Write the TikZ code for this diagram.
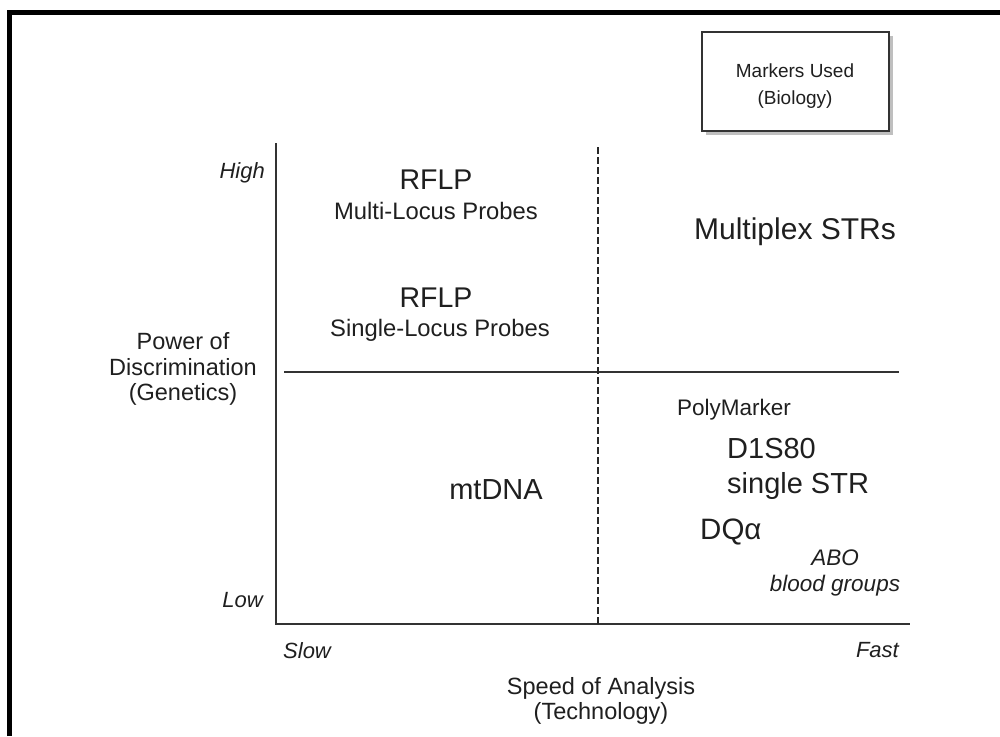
\documentclass[tikz,border=0pt]{standalone}
\usepackage{fontspec}
\setmainfont{Liberation Sans}
\usetikzlibrary{shadows}
\begin{document}
\begin{tikzpicture}[x=1pt,y=-1pt,
  txt/.style={inner sep=0pt, text=black!88, align=center},
  fs/.style 2 args={font=\fontsize{#1}{#2}\selectfont},
  axis/.style={draw=black!80, line width=1.8pt},
  midline/.style={draw=black!80, line width=1.6pt},
  divider/.style={draw=black!85, line width=1.5pt, dash pattern=on 7pt off 3pt},
  legend/.style={draw=black!80, line width=1.6pt, fill=white, minimum width=187pt, minimum height=99pt, inner sep=0pt,
     drop shadow={shadow xshift=4pt, shadow yshift=-4pt, fill=black!25, opacity=1}}
]
\useasboundingbox (0,0) rectangle (1000,736);
% frame
\coordinate (fb) at (9.5,736);
\coordinate (fc) at (9.5,12.5);
\coordinate (fr) at (1000,12.5);
\draw[line width=5pt, line join=miter] (fb) -- (fc) -- (fr);

% legend box
\node[legend] (leg) at (795.5,81.5) {};
\node[txt, fs={19}{27}] (legtxt) at (795,86) {Markers Used\\(Biology)};

% axes
\coordinate (ytop) at (276,143);
\coordinate (orig) at (276,624);
\coordinate (xend) at (910,624);
\draw[axis] (ytop) -- (orig) -- (xend);
\coordinate (mL) at (284,372);
\coordinate (mR) at (899,372);
\draw[midline] (mL) -- (mR);
\coordinate (dT) at (598,147);
\coordinate (dB) at (598,624);
\draw[divider] (dT) -- (dB);

% axis labels
\node[txt, fs={22}{24}, anchor=east] (high) at (265,173) {\itshape High};
\node[txt, fs={22}{24}, anchor=east] (low) at (263,600) {\itshape Low};
\node[txt, fs={22}{24}, anchor=west] (slow) at (283,651) {\itshape Slow};
\node[txt, fs={22}{24}, anchor=east] (fast) at (899,650) {\itshape Fast};
\node[txt, fs={23.5}{25.5}] (pod) at (183,369) {Power of\\Discrimination\\(Genetics)};
\node[txt, fs={23.5}{25}] (soa) at (601,701) {Speed of Analysis\\(Technology)};

% quadrant contents
\node[txt, fs={28.5}{30}] (rflp1) at (436,180) {RFLP};
\node[txt, fs={23.8}{26}] (mlp) at (436,211) {Multi-Locus Probes};
\node[txt, fs={28.5}{30}] (rflp2) at (436,298) {RFLP};
\node[txt, fs={23.8}{26}] (slp) at (440,330) {Single-Locus Probes};
\node[txt, fs={30}{32}] (mstr) at (795,232) {Multiplex STRs};
\node[txt, fs={29}{31}] (mt) at (496,490) {mtDNA};
\node[txt, fs={22.5}{24}, anchor=west] (pm) at (677,410) {PolyMarker};
\node[txt, fs={29}{35}, anchor=west, align=left] (d1s) at (727,469) {D1S80\\single STR};
\node[txt, fs={29.5}{31}, anchor=west] (dq) at (700,532) {DQα};
\node[txt, fs={22.5}{26}] (abo) at (835,573) {\itshape ABO\\\itshape blood groups};
\end{tikzpicture}
\end{document}
